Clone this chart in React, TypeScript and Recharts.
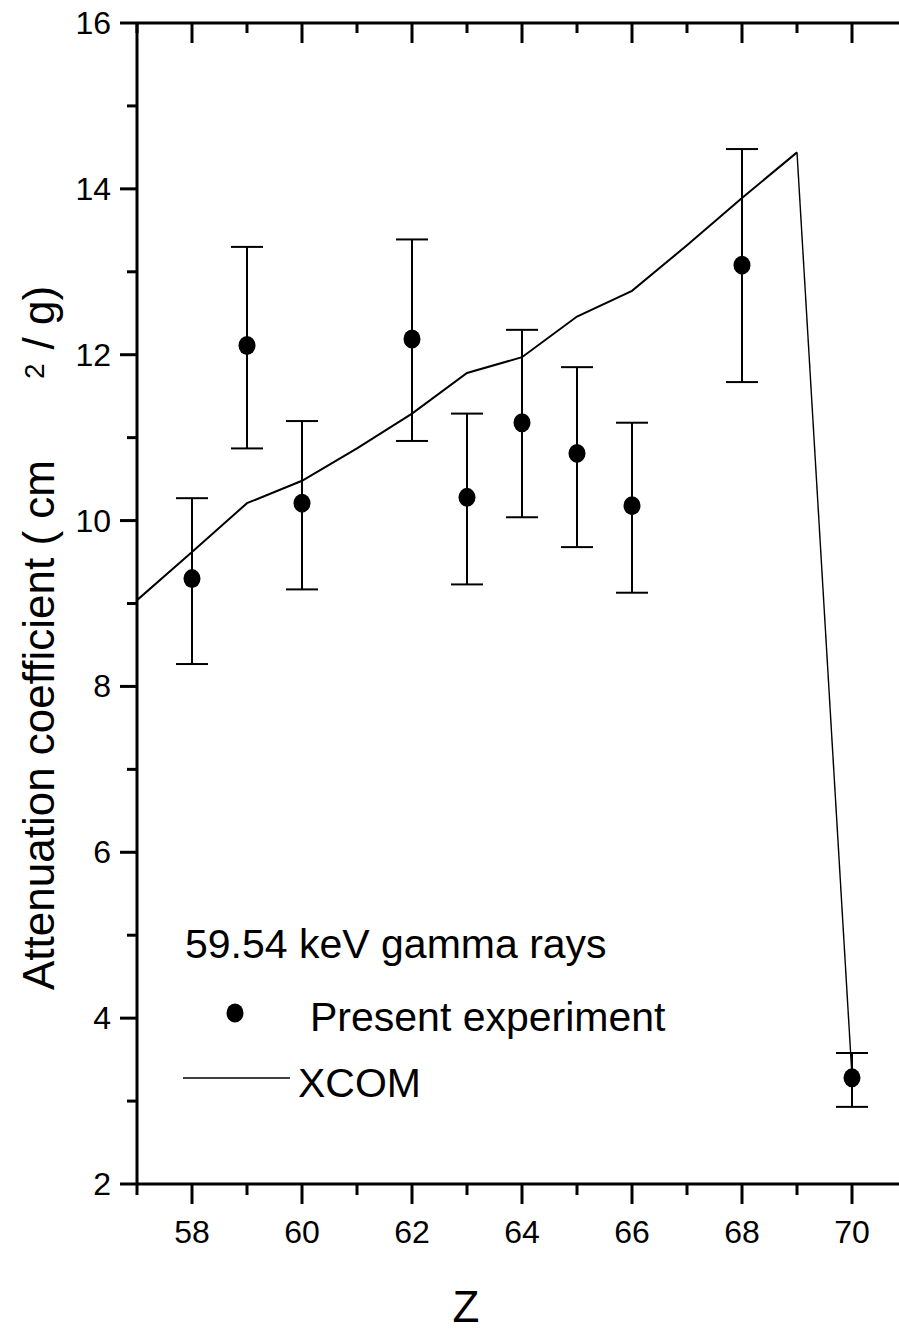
import React from 'react';
import { ScatterChart, Scatter, XAxis, YAxis, ErrorBar } from 'recharts';

// ---- Data ----
const zExp = [58, 59, 60, 62, 63, 64, 65, 66, 68, 70];
const muExp = [9.3, 12.11, 10.21, 12.19, 10.28, 11.18, 10.81, 10.18, 13.08, 3.28];
const muExpLow = [8.27, 10.87, 9.17, 10.96, 9.23, 10.04, 9.68, 9.13, 11.67, 2.93];
const muExpHigh = [10.27, 13.3, 11.2, 13.39, 11.29, 12.3, 11.85, 11.18, 14.48, 3.58];

const zXcom = [57, 58, 59, 60, 61, 62, 63, 64, 65, 66, 67, 68, 69, 70];
const muXcom = [9.04, 9.62, 10.21, 10.48, 10.87, 11.29, 11.78, 11.97, 12.46, 12.77, 13.32, 13.89, 14.44, 3.3];

const xTicks = [57, 58, 59, 60, 61, 62, 63, 64, 65, 66, 67, 68, 69, 70, 71];
const yTicks = [2, 3, 4, 5, 6, 7, 8, 9, 10, 11, 12, 13, 14, 15, 16];
const xLabelTicks = [58, 60, 62, 64, 66, 68, 70];
const yLabelTicks = [2, 4, 6, 8, 10, 12, 14, 16];

const legendTitle = '59.54 keV gamma rays';
const legendExp = 'Present experiment';
const legendXcom = 'XCOM';

const expData = zExp.map((z, i) => ({
  z,
  mu: muExp[i],
  err: [muExp[i] - muExpLow[i], muExpHigh[i] - muExp[i]],
}));
const xcomAll = zXcom.map((z, i) => ({ z, mu: muXcom[i] }));
const xcomMain = xcomAll.slice(0, xcomAll.length - 1);
const xcomDrop = xcomAll.slice(xcomAll.length - 2);

const FONT = '"Liberation Sans", Arial, Helvetica, sans-serif';

const BottomTick = (props: any) => {
  const { x, y, payload } = props;
  const v = payload.value;
  const major = v % 2 === 0;
  return (
    <g>
      <line x1={x} x2={x} y1={y} y2={y + (major ? 20 : 11)} stroke="#000" strokeWidth={3} />
      {xLabelTicks.includes(v) && (
        <text x={x} y={y + 59} textAnchor="middle" fontSize={32} fontFamily={FONT} fill="#000">
          {v}
        </text>
      )}
    </g>
  );
};

const TopTick = (props: any) => {
  const { x, y, payload } = props;
  const major = payload.value % 2 === 0;
  return <line x1={x} x2={x} y1={y} y2={y + (major ? 20 : 10)} stroke="#000" strokeWidth={3} />;
};

const LeftTick = (props: any) => {
  const { x, y, payload } = props;
  const v = payload.value;
  const major = v % 2 === 0;
  return (
    <g>
      <line x1={x - (major ? 17 : 10)} x2={x} y1={y} y2={y} stroke="#000" strokeWidth={3} />
      {yLabelTicks.includes(v) && (
        <text x={x - 26} y={y + 11} textAnchor="end" fontSize={32} fontFamily={FONT} fill="#000">
          {v}
        </text>
      )}
    </g>
  );
};

const RightTick = (props: any) => {
  const { x, y, payload } = props;
  const major = payload.value % 2 === 0;
  return <line x1={x} x2={x + (major ? 20 : 12)} y1={y} y2={y} stroke="#000" strokeWidth={3} />;
};

const Dot = (props: any) => {
  const { cx, cy } = props;
  return <ellipse cx={cx} cy={cy} rx={8.5} ry={9.5} fill="#000" />;
};

const NoDot = () => <g />;

export default function App() {
  return (
    <div
      style={{
        position: 'absolute',
        left: 0,
        top: 0,
        width: 899,
        height: 1332,
        overflow: 'hidden',
        background: '#fff',
      }}
    >
      <ScatterChart width={910} height={1332} margin={{ top: 0, right: 0, bottom: 0, left: 0 }}>
        <XAxis
          dataKey="z"
          type="number"
          domain={[57, 71]}
          ticks={xTicks}
          interval={0}
          height={148}
          tickSize={0}
          tickMargin={0}
          tick={<BottomTick />}
          axisLine={{ stroke: '#000', strokeWidth: 3 }}
          allowDataOverflow
        />
        <XAxis
          xAxisId="top"
          orientation="top"
          dataKey="z"
          type="number"
          domain={[57, 71]}
          ticks={xTicks}
          interval={0}
          height={23}
          tickSize={0}
          tickMargin={0}
          tick={<TopTick />}
          axisLine={{ stroke: '#000', strokeWidth: 3 }}
          allowDataOverflow
        />
        <YAxis
          dataKey="mu"
          type="number"
          domain={[2, 16]}
          ticks={yTicks}
          interval={0}
          width={137}
          tickSize={0}
          tickMargin={0}
          tick={<LeftTick />}
          axisLine={{ stroke: '#000', strokeWidth: 3 }}
          allowDataOverflow
        />
        <YAxis
          yAxisId="right"
          orientation="right"
          dataKey="mu"
          type="number"
          domain={[2, 16]}
          ticks={yTicks}
          interval={0}
          width={3}
          tickSize={0}
          tickMargin={0}
          tick={<RightTick />}
          axisLine={{ stroke: '#000', strokeWidth: 3 }}
          allowDataOverflow
        />
        <Scatter
          name="XCOM"
          data={xcomMain}
          line={{ stroke: '#000', strokeWidth: 2 }}
          lineType="joint"
          shape={<NoDot />}
          isAnimationActive={false}
        />
        <Scatter
          name="XCOM drop"
          data={xcomDrop}
          line={{ stroke: '#000', strokeWidth: 1.4 }}
          lineType="joint"
          shape={<NoDot />}
          isAnimationActive={false}
        />
        <Scatter name="Present experiment" data={expData} shape={<Dot />} isAnimationActive={false}>
          <ErrorBar dataKey="err" direction="y" width={16} stroke="#000" strokeWidth={2} />
        </Scatter>
      </ScatterChart>
      <svg
        width={899}
        height={1332}
        style={{ position: 'absolute', left: 0, top: 0, pointerEvents: 'none' }}
      >
        <text
          transform="translate(54, 990) rotate(-90)"
          fontSize={44}
          fontFamily={FONT}
          fill="#000"
        >
          Attenuation coefficient ( cm
          <tspan dx={81} dy={-10} fontSize={28}>
            2
          </tspan>
          <tspan dx={14} dy={10}>
            / g)
          </tspan>
        </text>
        <text x={466} y={1322} textAnchor="middle" fontSize={44} fontFamily={FONT} fill="#000">
          Z
        </text>
        <text x={185} y={958} fontSize={41} fontFamily={FONT} fill="#000">
          {legendTitle}
        </text>
        <ellipse cx={235} cy={1013} rx={8.5} ry={9.5} fill="#000" />
        <text x={310} y={1031} fontSize={41} fontFamily={FONT} fill="#000">
          {legendExp}
        </text>
        <line x1={183} x2={290} y1={1078} y2={1078} stroke="#000" strokeWidth={1.5} />
        <text x={298} y={1097} fontSize={41} fontFamily={FONT} fill="#000">
          {legendXcom}
        </text>
      </svg>
    </div>
  );
}
